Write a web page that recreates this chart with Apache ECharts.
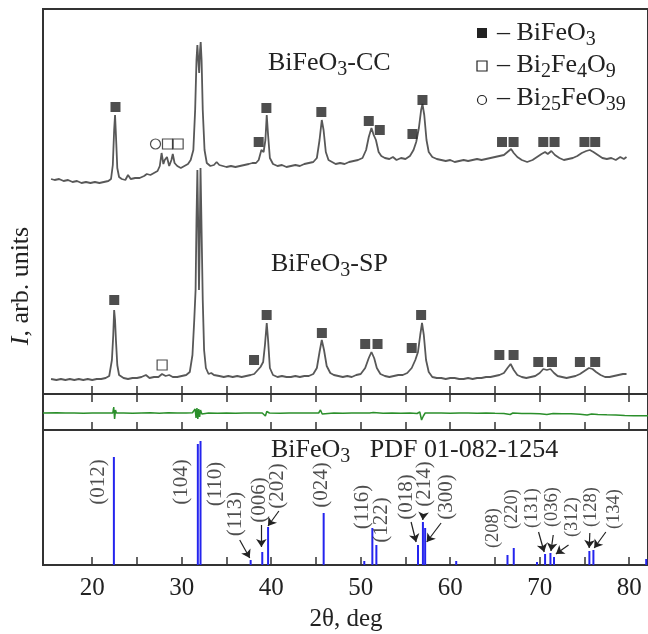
<!DOCTYPE html>
<html>
<head>
<meta charset="utf-8">
<script src="https://cdn.jsdelivr.net/npm/echarts@6/dist/echarts.min.js"></script>
<style>
html,body{margin:0;padding:0;background:#fff;}
#main{width:648px;height:634px;}
</style>
</head>
<body>
<div id="main"></div>
<script>
var FONT = 'Liberation Serif';

// x axis ticks (2theta, deg)
var tickValues = [20,25,30,35,40,45,50,55,60,65,70,75,80];
var labelValues = [20,30,40,50,60,70,80];

// BiFeO3-CC pattern [2theta, I]
var ccCurve = [
[15.4,215],[15.8,214],[16.3,215],[16.8,213],[17.3,214],[17.8,212],[18.3,213],[18.8,211],[19.3,212],[19.8,211],
[20.3,212],[20.5,210],[20.8,211],[21.3,212],[21.8,213],[22.1,215],[22.3,229],[22.45,264],[22.55,279],[22.65,259],
[22.8,226],[23.0,217],[23.3,215],[23.7,214],[24.0,219],[24.3,215],[24.8,216],[25.3,216],[25.8,218],[26.1,220],
[26.5,219],[26.9,221],[27.3,223],[27.55,228],[27.75,241],[27.95,230],[28.1,234],[28.35,237],[28.6,228],[28.85,234],
[29.0,240],[29.2,231],[29.5,228],[29.9,226],[30.3,228],[30.7,230],[31.0,234],[31.3,244],[31.5,284],[31.65,334],
[31.75,349],[31.85,334],[31.95,321],[32.05,344],[32.12,352],[32.22,334],[32.35,284],[32.55,244],[32.8,231],[33.2,228],
[33.6,229],[33.9,232],[34.2,229],[34.6,228],[35.0,227],[35.5,228],[36.0,227],[36.5,228],[37.0,229],[37.5,230],
[37.9,231],[38.3,231],[38.6,234],[38.9,244],[39.15,242],[39.35,254],[39.5,279],[39.65,259],[39.85,236],[40.2,230],
[40.7,228],[41.2,229],[41.7,227],[42.2,228],[42.7,229],[43.2,228],[43.7,230],[44.2,231],[44.7,232],[45.1,236],
[45.4,254],[45.65,274],[45.85,264],[46.1,242],[46.4,234],[46.8,232],[47.2,230],[47.7,231],[48.2,230],[48.7,232],
[49.2,233],[49.7,234],[50.2,236],[50.6,244],[50.9,257],[51.2,266],[51.45,259],[51.7,254],[52.0,242],[52.3,238],
[52.7,236],[53.2,235],[53.6,237],[54.0,234],[54.5,236],[55.0,235],[55.5,238],[55.9,244],[56.2,252],[56.5,266],
[56.75,284],[56.9,290],[57.1,279],[57.35,254],[57.6,242],[58.0,237],[58.5,235],[59.0,234],[59.5,233],[60.0,234],
[60.5,232],[61.0,233],[61.5,234],[62.0,233],[62.5,234],[63.0,235],[63.5,234],[64.0,235],[64.5,236],[65.0,237],
[65.5,238],[66.0,239],[66.4,242],[66.8,245],[67.1,241],[67.5,237],[68.0,234],[68.6,232],[69.2,234],[69.7,237],
[70.2,240],[70.6,242],[70.9,240],[71.3,243],[71.7,239],[72.2,236],[72.7,234],[73.2,235],[73.7,236],[74.2,238],
[74.7,241],[75.2,243],[75.6,244],[76.0,242],[76.5,239],[77.0,236],[77.5,235],[78.0,236],[78.5,234],[79.0,237],
[79.4,235],[79.7,237]
];

// BiFeO3-SP pattern [2theta, I]
var spCurve = [
[15.4,15],[16.0,14],[16.5,15],[17.0,14],[17.5,15],[18.0,14],[18.5,15],[19.0,14],[19.5,15],[20.0,14],
[20.5,15],[21.0,15],[21.5,16],[21.9,18],[22.2,34],[22.35,59],[22.45,84],[22.55,74],[22.65,54],[22.8,29],
[23.0,19],[23.5,16],[24.0,15],[24.5,16],[25.0,16],[25.5,17],[26.0,19],[26.4,16],[26.9,17],[27.4,17],
[27.8,20],[28.2,18],[28.6,19],[29.0,17],[29.5,17],[30.0,18],[30.5,19],[30.9,22],[31.2,39],[31.4,74],
[31.55,104],[31.65,174],[31.75,224],[31.85,164],[31.93,104],[32.0,144],[32.1,226],[32.2,174],[32.35,94],[32.5,44],
[32.7,26],[33.0,20],[33.3,21],[33.6,19],[34.2,18],[34.7,17],[35.2,18],[35.7,17],[36.2,18],[36.7,17],
[37.2,18],[37.7,19],[38.1,20],[38.5,24],[38.8,27],[39.1,32],[39.3,49],[39.5,71],[39.65,54],[39.85,26],
[40.2,19],[40.7,17],[41.2,18],[41.7,17],[42.2,17],[42.7,18],[43.2,17],[43.7,18],[44.2,18],[44.7,20],
[45.1,26],[45.4,42],[45.65,54],[45.9,44],[46.2,28],[46.6,21],[47.0,19],[47.5,18],[48.0,17],[48.5,18],
[49.0,17],[49.5,19],[50.0,20],[50.5,26],[50.9,36],[51.2,42],[51.5,36],[51.8,26],[52.2,20],[52.7,18],
[53.2,17],[53.7,18],[54.2,19],[54.7,19],[55.2,21],[55.7,26],[56.1,34],[56.4,42],[56.65,59],[56.85,71],
[57.05,59],[57.3,34],[57.6,22],[58.0,17],[58.5,16],[59.0,16],[59.5,15],[60.0,16],[60.5,16],[61.0,15],
[61.5,15],[62.0,16],[62.5,15],[63.0,16],[63.5,16],[64.0,17],[64.5,17],[65.0,18],[65.5,19],[66.0,21],
[66.4,26],[66.75,30],[67.1,24],[67.5,19],[68.0,17],[68.5,16],[69.0,17],[69.5,18],[70.0,21],[70.4,25],
[70.8,24],[71.2,25],[71.6,21],[72.0,18],[72.5,17],[73.0,16],[73.5,17],[74.0,18],[74.5,20],[75.0,23],
[75.5,26],[75.9,25],[76.3,22],[76.8,19],[77.3,17],[77.8,17],[78.3,18],[78.8,19],[79.3,20],[79.7,20]
];

// difference curve (middle panel)
var diffCurve = [
[14.5,17],[16,17.2],[17,16.9],[18,17.1],[19,16.8],[20,17],[21,17.1],[22,16.9],[22.3,17],[22.4,23],
[22.5,11],[22.6,20],[22.7,17],[23.5,17],[24.5,16.8],[25.5,17],[26.5,17.2],[27.5,16.8],[28.5,17.3],[29.5,16.9],
[30.5,17],[31.2,17.2],[31.5,21],[31.6,12],[31.7,22],[31.8,11],[31.9,21],[32.0,13],[32.1,20],[32.25,16],
[32.4,17],[33,17],[34,16.8],[35,17.1],[36,16.8],[37,17],[38,16.9],[39.0,17],[39.2,19],[39.35,14],
[39.5,18.5],[39.65,16.5],[39.8,17],[41,16.8],[42,17],[43,16.9],[44,17],[45.3,17],[45.5,20],[45.7,16],
[45.9,17],[47,17],[48,16.8],[49,17],[50,16.9],[51,17],[51.2,15],[51.4,17.5],[51.6,17],[52.5,16.8],
[53.5,17],[54.5,16.8],[55.5,17],[56.3,16.5],[56.6,18],[56.8,10],[57.0,14],[57.2,17],[58,16.9],[59,17],
[60,16.8],[61,16.9],[62,17],[63,16.8],[64,16.9],[65,16.7],[66,16.6],[66.7,15.5],[67,17],[68,16.5],
[69,16.4],[70,16.3],[70.8,15.6],[71.5,16.4],[72.5,16.2],[73.5,16.2],[74.5,15.8],[75.3,15],[75.8,16],[76.5,15.6],
[77.5,15.2],[78.5,14.9],[79.5,14.5],[80.5,14.3],[82.1,14.3]
];

// phase marks
var ccBiFeO3 = [[22.6,287],[38.6,252],[39.46,286],[45.6,282],[50.9,273],[52.13,264],[55.78,260],[56.9,294],
  [65.79,252],[67.08,252],[70.4,252],[71.66,252],[75.0,252],[76.2,252]];
var ccBi2Fe4O9 = [[28.41,250],[29.6,250]];
var ccBi25FeO39 = [[27.07,250]];
var spBiFeO3 = [[22.46,94],[38.08,34],[39.49,79],[45.66,61],[50.5,50],[51.88,50],[55.7,46],[56.75,79],
  [65.49,39],[67.08,39],[69.84,32],[71.37,32],[74.49,32],[76.2,32]];
var spBi2Fe4O9 = [[27.81,29]];

// PDF 01-082-1254 reference lines [2theta, intensity]
var pdfLines = [[22.42,108],[31.8,121],[32.1,124],[37.7,5],[39.0,13],[39.65,38],[45.86,52],[50.4,4],
  [51.3,37],[51.75,20],[56.4,20],[56.95,43],[57.2,37],[60.67,4],[66.4,10],[67.1,17],[69.7,3],
  [70.6,11],[71.2,12],[71.6,8],[75.55,14],[76.0,15],[81.9,6]];
var pdfLabels = [[20.67,83,'(012)'],[29.97,83,'(104)'],[33.8,81,'(110)'],[36.03,51,'(113)'],[38.71,65,'(006)'],
  [40.72,79,'(202)'],[45.6,80,'(024)'],[50.24,58,'(116)'],[52.29,45,'(122)'],[55.08,68,'(018)'],[57.12,81,'(214)'],
  [59.54,68,'(300)'],[64.82,37,'(208)'],[66.97,56,'(220)'],[69.14,57,'(131)'],[71.37,58,'(036)'],[73.67,48,'(312)'],
  [75.75,58,'(128)'],[78.32,56,'(134)']];
var pdfArrows = [[36.48,25,37.6,7],[38.9,40,38.9,18],[40.86,54,39.64,39],[55.63,43,56.19,23],[57.0,51,56.93,45],
  [58.98,42,57.38,23],[69.87,33,70.5,13],[71.51,30,71.26,14],[73.22,20,71.81,11],[75.6,32,75.53,17],[77.39,33,76.09,17]];

function xAxisFor(grid, pos, withLabels) {
  return {
    type: 'value', gridIndex: grid, position: pos, min: 14.5, max: 82.1,
    axisLine: {show: false},
    splitLine: {show: false},
    axisTick: {show: true, inside: true, length: 8, customValues: tickValues,
      lineStyle: {color: '#333', width: 1.5}},
    axisLabel: withLabels ? {show: true, customValues: labelValues, fontSize: 25,
      fontFamily: FONT, color: '#222', margin: 11} : {show: false}
  };
}
function yAxisFor(grid, max) {
  return {type: 'value', gridIndex: grid, min: 0, max: max, show: false};
}
function marks(data, symbol, filled, size) {
  return {
    type: 'scatter', xAxisIndex: 0, yAxisIndex: 0, data: data, symbol: symbol, symbolSize: size,
    itemStyle: filled ? {color: '#222'} : {color: '#fff', borderColor: '#222', borderWidth: 1.2},
    z: 5, silent: true
  };
}

// chemical formula text: parts are [text, isSubscript]
var measureCtx = document.createElement('canvas').getContext('2d');
function chem(x, y, parts) {
  var els = [];
  parts.forEach(function (p) {
    var font = (p[1] ? 20 : 26) + 'px "' + FONT + '"';
    measureCtx.font = font;
    els.push({type: 'text', x: x, y: y + (p[1] ? 7 : 0), z: 10,
      style: {text: p[0], font: font, fill: '#222', verticalAlign: 'middle', align: 'left'}});
    x += measureCtx.measureText(p[0]).width;
  });
  return els;
}

var graphics = [].concat(
  chem(268, 63, [['BiFeO', 0], ['3', 1], ['-CC', 0]]),
  chem(271, 264, [['BiFeO', 0], ['3', 1], ['-SP', 0]]),
  chem(271, 450, [['BiFeO', 0], ['3', 1], ['   PDF 01-082-1254', 0]]),
  chem(497, 33, [['– BiFeO', 0], ['3', 1]]),
  chem(497, 65, [['– Bi', 0], ['2', 1], ['Fe', 0], ['4', 1], ['O', 0], ['9', 1]]),
  chem(497, 98, [['– Bi', 0], ['25', 1], ['FeO', 0], ['39', 1]]),
  [
    {type: 'rect', shape: {x: 477, y: 28, width: 10, height: 10}, style: {fill: '#222'}},
    {type: 'rect', shape: {x: 477, y: 61, width: 10, height: 10}, style: {fill: '#fff', stroke: '#222', lineWidth: 1.2}},
    {type: 'circle', shape: {cx: 482, cy: 100, r: 4.5}, style: {fill: '#fff', stroke: '#222', lineWidth: 1.2}},
    {type: 'text', x: 21, y: 286, rotation: Math.PI / 2, z: 10,
      style: {text: '{i|I}{a|, arb. units}', align: 'center', verticalAlign: 'middle',
        rich: {i: {fontFamily: FONT, fontSize: 26, fontStyle: 'italic', fill: '#222'},
               a: {fontFamily: FONT, fontSize: 26, fill: '#222'}}}},
    {type: 'text', x: 346, y: 619, z: 10,
      style: {text: '2θ, deg', font: '25px "Liberation Serif"', fill: '#222', align: 'center', verticalAlign: 'middle'}}
  ]
);

var chart = echarts.init(document.getElementById('main'));
chart.setOption({
  animation: false,
  backgroundColor: '#fff',
  grid: [
    {left: 43, top: 9, width: 606, height: 385, show: true, borderColor: '#333', borderWidth: 2},
    {left: 43, top: 394, width: 606, height: 36, show: true, borderColor: '#333', borderWidth: 2},
    {left: 43, top: 430, width: 606, height: 135, show: true, borderColor: '#333', borderWidth: 2}
  ],
  xAxis: [xAxisFor(0, 'bottom', false), xAxisFor(1, 'bottom', false), xAxisFor(1, 'top', false), xAxisFor(2, 'bottom', true)],
  yAxis: [yAxisFor(0, 385), yAxisFor(1, 36), yAxisFor(2, 135)],
  series: [
    {type: 'line', xAxisIndex: 0, yAxisIndex: 0, data: ccCurve, showSymbol: false,
      lineStyle: {color: '#585858', width: 1.8}},
    {type: 'line', xAxisIndex: 0, yAxisIndex: 0, data: spCurve, showSymbol: false,
      lineStyle: {color: '#585858', width: 1.8}},
    marks(ccBiFeO3, 'rect', true, 10),
    marks(ccBi2Fe4O9, 'rect', false, 10),
    marks(ccBi25FeO39, 'circle', false, 10),
    marks(spBiFeO3, 'rect', true, 10),
    marks(spBi2Fe4O9, 'rect', false, 10),
    {type: 'line', xAxisIndex: 1, yAxisIndex: 1, data: diffCurve, showSymbol: false,
      lineStyle: {color: '#2b8f2b', width: 1.5}},
    {type: 'custom', xAxisIndex: 3, yAxisIndex: 2, data: pdfLines, encode: {x: 0, y: 1},
      renderItem: function (params, api) {
        var top = api.coord([api.value(0), api.value(1)]);
        var bot = api.coord([api.value(0), 0]);
        return {type: 'line', shape: {x1: top[0], y1: top[1], x2: bot[0], y2: bot[1]},
          style: {stroke: '#2424ee', lineWidth: 2}};
      }},
    {type: 'scatter', xAxisIndex: 3, yAxisIndex: 2, symbolSize: 0, silent: true,
      data: pdfLabels.map(function (d) {
        return {value: [d[0], d[1]], name: d[2], label: {fontSize: d[0] > 62 ? 18.5 : 21}};
      }),
      label: {show: true, formatter: '{b}', rotate: 90, position: 'inside', color: '#222', fontFamily: FONT},
      markLine: {silent: true, symbol: ['none', 'arrow'], symbolSize: 8, label: {show: false},
        lineStyle: {color: '#222', width: 1.2, type: 'solid'},
        data: pdfArrows.map(function (a) { return [{coord: [a[0], a[1]]}, {coord: [a[2], a[3]]}]; })}
    }
  ],
  graphic: graphics
});
</script>
</body>
</html>
